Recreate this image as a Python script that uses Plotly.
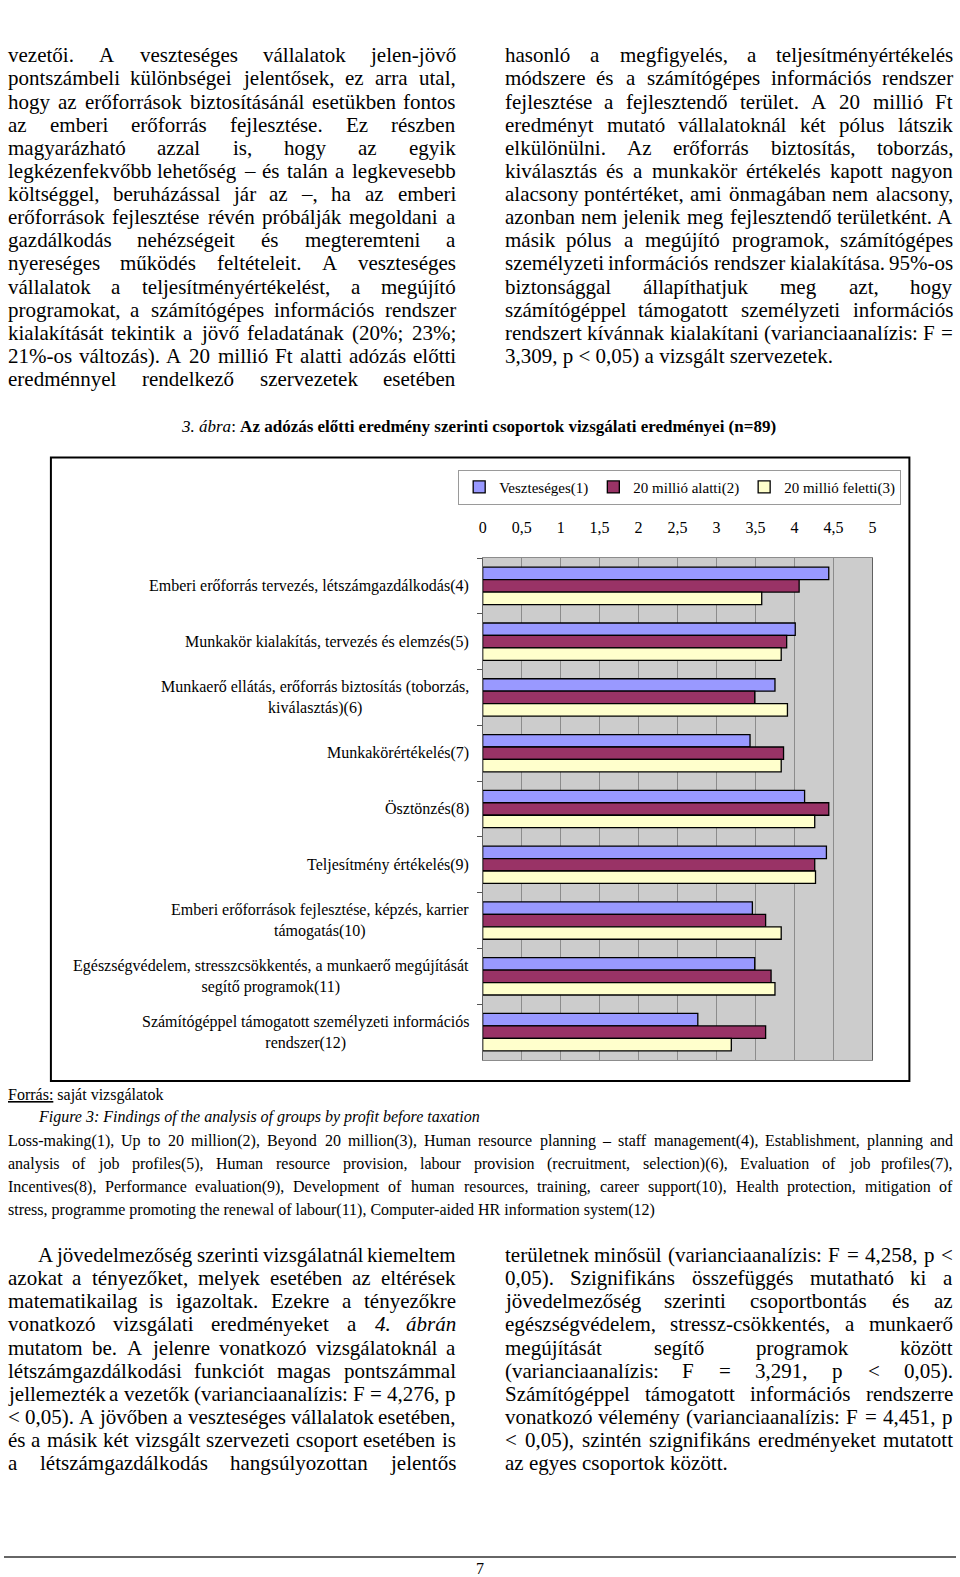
"""
3. ábra - adózás előtti eredmény szerinti csoportok (oldal rekonstrukció)
"""

import unicodedata
import plotly.graph_objects as go

W, H = 960, 1577
SERIF = "Liberation Serif"

# chart data
groups = ["Veszteséges(1)", "20 millió alatti(2)", "20 millió feletti(3)"]
categories = [
    "Emberi erőforrás tervezés, létszámgazdálkodás(4)",
    "Munkakör kialakítás, tervezés és elemzés(5)",
    "Munkaerő ellátás, erőforrás biztosítás (toborzás,<br>kiválasztás)(6)",
    "Munkakörértékelés(7)",
    "Ösztönzés(8)",
    "Teljesítmény értékelés(9)",
    "Emberi erőforrások fejlesztése, képzés, karrier<br>támogatás(10)",
    "Egészségvédelem, stresszcsökkentés, a munkaerő megújítását<br>segítő programok(11)",
    "Számítógéppel támogatott személyzeti információs<br>rendszer(12)",
]
loss_making = [4.44, 4.01, 3.75, 3.43, 4.13, 4.41, 3.46, 3.49, 2.76]
under_20m = [4.06, 3.90, 3.49, 3.86, 4.44, 4.26, 3.63, 3.70, 3.63]
over_20m = [3.58, 3.83, 3.91, 3.83, 4.26, 4.27, 3.83, 3.75, 3.19]
colors = ["#9999FF", "#993366", "#FFFFCC"]
x_ticks = [0, 0.5, 1, 1.5, 2, 2.5, 3, 3.5, 4, 4.5, 5]

# page text
top_left = [
    "vezetői. A veszteséges vállalatok jelen-jövő",
    "pontszámbeli különbségei jelentősek, ez arra utal,",
    "hogy az erőforrások biztosításánál esetükben fontos",
    "az emberi erőforrás fejlesztése. Ez részben",
    "magyarázható azzal is, hogy az egyik",
    "legkézenfekvőbb lehetőség – és talán a legkevesebb",
    "költséggel, beruházással jár az –, ha az emberi",
    "erőforrások fejlesztése révén próbálják megoldani a",
    "gazdálkodás nehézségeit és megteremteni a",
    "nyereséges működés feltételeit. A veszteséges",
    "vállalatok a teljesítményértékelést, a megújító",
    "programokat, a számítógépes információs rendszer",
    "kialakítását tekintik a jövő feladatának (20%; 23%;",
    "21%-os változás). A 20 millió Ft alatti adózás előtti",
    "eredménnyel rendelkező szervezetek esetében",
]
top_right = [
    "hasonló a megfigyelés, a teljesítményértékelés",
    "módszere és a számítógépes információs rendszer",
    "fejlesztése a fejlesztendő terület. A 20 millió Ft",
    "eredményt mutató vállalatoknál két pólus látszik",
    "elkülönülni. Az erőforrás biztosítás, toborzás,",
    "kiválasztás és a munkakör értékelés kapott nagyon",
    "alacsony pontértéket, ami önmagában nem alacsony,",
    "azonban nem jelenik meg fejlesztendő területként. A",
    "másik pólus a megújító programok, számítógépes",
    "személyzeti információs rendszer kialakítása. 95%-os",
    "biztonsággal állapíthatjuk meg azt, hogy",
    "számítógéppel támogatott személyzeti információs",
    "rendszert kívánnak kialakítani (varianciaanalízis: F =",
    "3,309, p < 0,05) a vizsgált szervezetek.",
]
english = [
    "Loss-making(1), Up to 20 million(2), Beyond 20 million(3), Human resource planning – staff management(4), Establishment, planning and",
    "analysis of job profiles(5), Human resource provision, labour provision (recruitment, selection)(6), Evaluation of job profiles(7),",
    "Incentives(8), Performance evaluation(9), Development of human resources, training, career support(10), Health protection, mitigation of",
    "stress, programme promoting the renewal of labour(11), Computer-aided HR information system(12)",
]
bottom_left = [
    "A jövedelmezőség szerinti vizsgálatnál kiemeltem",
    "azokat a tényezőket, melyek esetében az eltérések",
    "matematikailag is igazoltak. Ezekre a tényezőkre",
    "vonatkozó vizsgálati eredményeket a *4. *ábrán",
    "mutatom be. A jelenre vonatkozó vizsgálatoknál a",
    "létszámgazdálkodási funkciót magas pontszámmal",
    "jellemezték a vezetők (varianciaanalízis: F = 4,276, p",
    "< 0,05). A jövőben a veszteséges vállalatok esetében,",
    "és a másik két vizsgált szervezeti csoport esetében is",
    "a létszámgazdálkodás hangsúlyozottan jelentős",
]
bottom_right = [
    "területnek minősül (varianciaanalízis: F = 4,258, p <",
    "0,05). Szignifikáns összefüggés mutatható ki a",
    "jövedelmezőség szerinti csoportbontás és az",
    "egészségvédelem, stressz-csökkentés, a munkaerő",
    "megújítását segítő programok között",
    "(varianciaanalízis: F = 3,291, p < 0,05).",
    "Számítógéppel támogatott információs rendszerre",
    "vonatkozó vélemény (varianciaanalízis: F = 4,451, p",
    "< 0,05), szintén szignifikáns eredményeket mutatott",
    "az egyes csoportok között.",
]

# approximate Times widths (1/1000 em) for justifying lines
LOWER = dict(a=444, b=500, c=444, d=500, e=444, f=333, g=500, h=500, i=278, j=278, k=500, l=278, m=778,
             n=500, o=500, p=500, q=500, r=333, s=389, t=278, u=500, v=500, w=722, x=500, y=500, z=444)
UPPER = dict(A=722, B=667, C=667, D=722, E=611, F=556, G=722, H=722, I=333, J=389, K=722, L=611, M=889,
             N=722, O=722, P=556, Q=722, R=667, S=556, T=611, U=722, V=722, W=944, X=722, Y=722, Z=611)
OTHER = {" ": 250, ".": 250, ",": 250, ":": 278, ";": 278, "(": 333, ")": 333, "-": 333, "–": 500,
         "%": 833, "=": 564, "<": 564, ">": 564}


def text_width(s, size):
    total = 0
    for ch in s.replace("*", ""):
        base = unicodedata.normalize("NFD", ch)[0]
        if base in LOWER:
            total += LOWER[base]
        elif base in UPPER:
            total += UPPER[base]
        elif base.isdigit():
            total += 500
        else:
            total += OTHER.get(base, 500)
    return total * size / 1000


annotations = []


def fmt(word):
    word = word.replace("<", "&lt;")
    if word.startswith("*"):
        return "<i>" + word.replace("*", "") + "</i>"
    return word


def put(text, x, y, size, anchor="left", **kw):
    annotations.append(dict(text=text, x=x / W, y=1 - y / H, xref="paper", yref="paper",
                            xanchor=anchor, yanchor="middle", showarrow=False,
                            borderpad=0, borderwidth=0,
                            font=dict(family=SERIF, size=size, color="black"), **kw))


def line(text, y, left, right, size, justify=True):
    words = text.split()
    if not justify or len(words) < 2:
        put(" ".join(fmt(w) for w in words), left, y, size)
        return
    widths = [text_width(w, size) for w in words]
    gap = (right - left - sum(widths)) / (len(words) - 1)
    x = left
    for i, (w, wd) in enumerate(zip(words, widths)):
        if i == 0:
            put(fmt(w), x, y, size, "left")
        elif i == len(words) - 1:
            put(fmt(w), right, y, size, "right")
        else:
            put(fmt(w), x + wd / 2, y, size, "center")
        x += wd + gap


BODY = 21
STEP = 23.13
for i, t in enumerate(top_left):
    line(t, 55.3 + STEP * i, 4, 455.6, BODY)
for i, t in enumerate(top_right):
    line(t, 55.3 + STEP * i, 504.9, 957.4, BODY, justify=i < len(top_right) - 1)
for i, t in enumerate(bottom_left):
    line(t, 1255.1 + STEP * i, 34 if i == 0 else 4, 455.6, BODY)
for i, t in enumerate(bottom_right):
    line(t, 1255.1 + STEP * i, 504.9, 957.4, BODY, justify=i < len(bottom_right) - 1)
for i, t in enumerate(english):
    line(t, 1140.5 + 23.13 * i, 4, 957.4, 16, justify=i < len(english) - 1)

# captions
annotations.append(dict(text="<i>3. ábra</i>: <b>Az adózás előtti eredmény szerinti csoportok vizsgálati eredményei (n=89)</b>",
                        x=478 / W, y=1 - 426.4 / H, xref="paper", yref="paper", xanchor="center", yanchor="middle",
                        showarrow=False, font=dict(family=SERIF, size=17, color="black")))
put('<span style="text-decoration:underline">Forrás:</span> saját vizsgálatok', 4, 1095.2, 16)
put("<i>Figure 3: Findings of the analysis of groups by profit before taxation</i>", 34, 1117.3, 16)
annotations.append(dict(text="7", x=480 / W, y=1 - 1568 / H, xref="paper", yref="paper", xanchor="center",
                        yanchor="middle", showarrow=False, font=dict(family=SERIF, size=16, color="black")))

# category labels, centred lines like the original chart
for c in categories:
    annotations.append(dict(text=c, x=470.7 / W, y=c, xref="paper", yref="y", xanchor="right", yanchor="middle",
                            align="center", showarrow=False, font=dict(family=SERIF, size=16, color="black")))

fig = go.Figure()
for name, vals, col in zip(groups, [loss_making, under_20m, over_20m], colors):
    fig.add_trace(go.Bar(name=name, x=vals, y=categories, orientation="h",
                         marker=dict(color=col, line=dict(color="black", width=1.3))))

fig.update_layout(
    width=W, height=H,
    margin=dict(l=0, r=0, t=0, b=0),
    paper_bgcolor="white", plot_bgcolor="#CCCCCC",
    separators=", ",
    barmode="group", bargap=0.33, bargroupgap=0,
    font=dict(family=SERIF, size=16, color="black"),
    showlegend=True,
    legend=dict(orientation="h", x=458 / W, y=1 - 469.7 / H, xanchor="left", yanchor="top",
                bgcolor="white", bordercolor="#9a9a9a", borderwidth=1,
                font=dict(family=SERIF, size=15), itemwidth=30, traceorder="normal"),
    annotations=annotations,
    shapes=[
        dict(type="rect", xref="paper", yref="paper", x0=47.3 / W, x1=913 / W,
             y0=1 - 1081 / H, y1=1 - 457.6 / H, line=dict(color="black", width=2)),
        dict(type="line", xref="paper", yref="paper", x0=0, x1=1,
             y0=1 - 1557 / H, y1=1 - 1557 / H, line=dict(color="#333333", width=1.5)),
    ],
)
fig.update_xaxes(domain=[482.7 / W, 875.7 / W], range=[0, 5], side="top",
                 tickvals=x_ticks, ticklabelstandoff=18, ticks="",
                 showgrid=True, gridcolor="#8c8c8c", gridwidth=1, zeroline=False,
                 showline=True, mirror=True, linecolor="#8c8c8c", linewidth=1,
                 tickfont=dict(family=SERIF, size=16))
fig.update_yaxes(domain=[1 - 1060 / H, 1 - 558 / H], type="category",
                 categoryorder="array", categoryarray=categories, autorange="reversed",
                 showticklabels=False, ticks="outside", tickson="boundaries", ticklen=5,
                 tickcolor="#555555", showgrid=False,
                 showline=True, mirror=True, linecolor="#606060", linewidth=1)

fig.write_html("out.html", config={"displayModeBar": False},
               post_script="document.body.style.margin='0';document.body.style.overflow='hidden';")
